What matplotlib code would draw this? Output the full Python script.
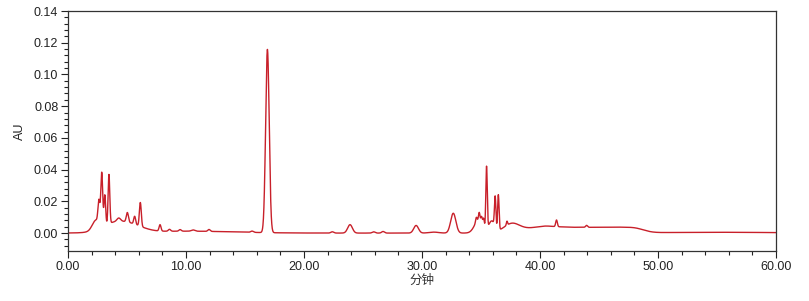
import numpy as np
import matplotlib
matplotlib.use("Agg")
import matplotlib.pyplot as plt
from matplotlib.ticker import MultipleLocator, FormatStrFormatter

# Peak table: retention time (min), height (AU), width sigma (min)
peak_times = [2.35, 4.0, 5.6, 10.0, 55.0,
              2.62, 2.86, 3.12, 3.47, 4.3, 5.03, 5.65, 6.13, 7.8, 8.6, 9.5, 10.6,
              11.95, 15.6, 16.9, 22.4, 23.9, 25.9, 26.7, 29.5, 31.0, 32.65, 34.8,
              34.6, 34.85, 35.05, 35.22, 35.47, 35.9, 36.2, 36.47, 37.2, 37.6, 38.6, 41.4, 43.95,
              40.5, 42.0, 43.5, 45.0, 46.5, 48.0]
peak_heights = [0.006, 0.006, 0.003, 0.0012, 0.0005,
                0.014, 0.033, 0.019, 0.031, 0.002, 0.006, 0.005, 0.015, 0.004, 0.0012, 0.001, 0.0008,
                0.0012, 0.0008, 0.1155, 0.0008, 0.0053, 0.0008, 0.001, 0.0048, 0.0006, 0.0125, 0.008,
                0.003, 0.005, 0.004, 0.005, 0.039, 0.007, 0.019, 0.022, 0.0025, 0.004, 0.0028, 0.0042, 0.0012,
                0.0027, 0.0027, 0.0027, 0.0027, 0.0027, 0.0027]
peak_widths = [0.3, 1.1, 1.0, 4.0, 5.0,
               0.08, 0.08, 0.07, 0.07, 0.15, 0.09, 0.08, 0.08, 0.08, 0.1, 0.1, 0.15,
               0.1, 0.12, 0.15, 0.12, 0.2, 0.12, 0.12, 0.2, 0.4, 0.22, 0.35,
               0.06, 0.06, 0.06, 0.06, 0.06, 0.25, 0.06, 0.06, 0.05, 0.6, 1.5, 0.07, 0.08,
               0.8, 0.8, 0.8, 0.8, 0.8, 0.8]

x_ticks = [0, 10, 20, 30, 40, 50, 60]
y_ticks = [0.00, 0.02, 0.04, 0.06, 0.08, 0.10, 0.12, 0.14]

t = np.linspace(0, 60, 6001)
signal = np.zeros_like(t)
for c, h, w in zip(peak_times, peak_heights, peak_widths):
    signal += h * np.exp(-0.5 * ((t - c) / w) ** 2)

plt.rcParams['font.family'] = ['Liberation Sans', 'DejaVu Sans']
fig = plt.figure(figsize=(8.09, 3.01), dpi=100)
ax = fig.add_axes([68/809, 50/301, 708/809, 240/301])
ax.plot(t, signal, color='#c8202a', lw=1.0)
ax.set_xlim(0, 60)
ax.set_ylim(-0.0113, 0.14)
ax.set_xticks(x_ticks)
ax.set_yticks(y_ticks)
ax.xaxis.set_major_formatter(FormatStrFormatter('%.2f'))
ax.yaxis.set_major_formatter(FormatStrFormatter('%.2f'))
ax.xaxis.set_minor_locator(MultipleLocator(2))
ax.yaxis.set_minor_locator(MultipleLocator(0.004))
ax.tick_params(axis='both', which='major', direction='out', length=5, width=0.8,
               labelsize=9, colors='#222222', pad=2)
ax.tick_params(axis='both', which='minor', direction='out', length=3, width=0.8, colors='#222222')
for s in ax.spines.values():
    s.set_color('#333333')
    s.set_linewidth(0.9)
ax.set_ylabel('AU', fontsize=9, color='#222222', labelpad=6)
ax.set_xlabel('分钟', fontsize=9, color='#333333', family=['Noto Sans CJK SC', 'DejaVu Sans'], labelpad=1)
fig.savefig('out.png', dpi=100)
